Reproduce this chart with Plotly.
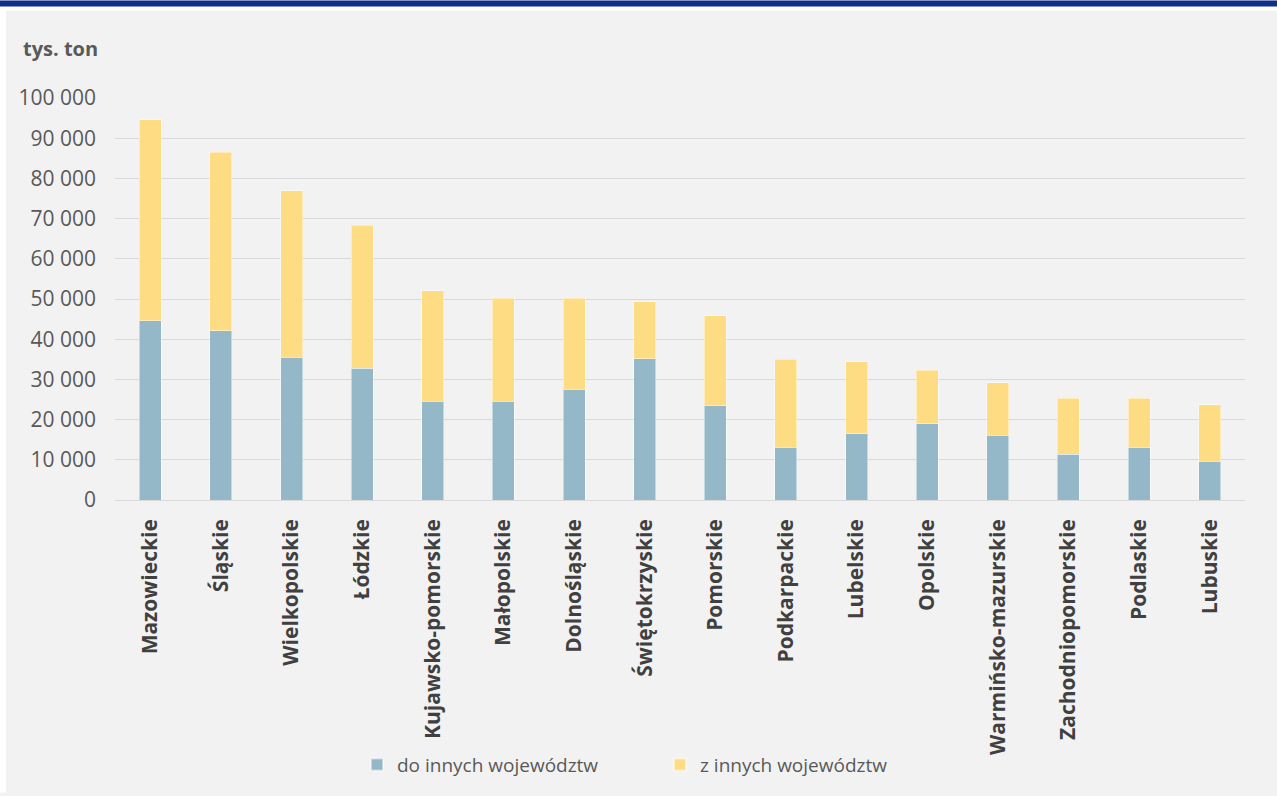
import plotly.graph_objects as go

# województwa, posortowane wg sumy przewozów
categories = [
    "Mazowieckie", "Śląskie", "Wielkopolskie", "Łódzkie", "Kujawsko-pomorskie",
    "Małopolskie", "Dolnośląskie", "Świętokrzyskie", "Pomorskie", "Podkarpackie",
    "Lubelskie", "Opolskie", "Warmińsko-mazurskie", "Zachodniopomorskie",
    "Podlaskie", "Lubuskie",
]

# tys. ton
do_innych = [44530, 42140, 35470, 32760, 24610, 24610, 27570, 35140,
             23470, 13140, 16530, 18930, 16120, 11320, 13140, 9590]
z_innych = [50120, 44360, 41400, 35640, 27490, 25590, 22630, 14160,
            22400, 21820, 17850, 13300, 13050, 13970, 12150, 14130]

y_ticks = [0, 10000, 20000, 30000, 40000, 50000, 60000, 70000, 80000, 90000, 100000]

BLUE = "#94B8C7"
YELLOW = "#FEDC84"
TEXT = "#595959"
FONT = "Open Sans"

W, H = 1277, 796
L, R, T, B = 115, 32, 98, 294


def px_x(px):
    return (px - L) / (W - L - R)


def px_y(py):
    return (H - B - py) / (H - T - B)


fig = go.Figure()
fig.add_trace(go.Bar(
    x=categories, y=do_innych, name="do innych województw",
    marker=dict(color=BLUE, line=dict(color="rgba(255,255,255,0.45)", width=1)),
))
fig.add_trace(go.Bar(
    x=categories, y=z_innych, name="z innych województw",
    marker=dict(color=YELLOW, line=dict(color="rgba(255,255,255,0.45)", width=1)),
))

fig.update_layout(
    width=W, height=H,
    barmode="stack",
    bargap=0.69,
    separators=", ",
    paper_bgcolor="#F2F2F2",
    plot_bgcolor="#F2F2F2",
    margin=dict(l=L, r=R, t=T, b=B, pad=0),
    font=dict(family=FONT, color=TEXT),
    xaxis=dict(
        showgrid=False, showline=False, ticks="",
        tickangle=-90,
        tickfont=dict(size=21, color="#404040", family=FONT, weight="bold"),
        ticklabelstandoff=14,
    ),
    yaxis=dict(
        range=[0, 100000], tickvals=y_ticks, tickformat=",d",
        showgrid=True, gridcolor="#D9D9D9", gridwidth=1,
        zeroline=True, zerolinecolor="#D9D9D9", zerolinewidth=1,
        showline=False, ticks="",
        tickfont=dict(size=21, color=TEXT, family=FONT),
        ticklabelstandoff=18,
    ),
    legend=dict(
        orientation="h", x=px_x(357), xanchor="left",
        y=px_y(768), yanchor="middle",
        font=dict(size=19, color=TEXT, family=FONT),
        entrywidth=258, entrywidthmode="pixels",
        itemsizing="constant", traceorder="normal",
        bgcolor="rgba(0,0,0,0)",
    ),
    showlegend=True,
)

fig.add_annotation(
    text="<b>tys. ton</b>", xref="paper", yref="paper",
    x=px_x(21), y=px_y(48), xanchor="left", yanchor="middle",
    showarrow=False, font=dict(size=20, color=TEXT, family=FONT),
)

# pasek tytułu u góry i białe obramowanie
fig.add_shape(type="rect", xref="paper", yref="paper", layer="below",
              x0=px_x(0), x1=px_x(W), y0=px_y(10), y1=px_y(0),
              fillcolor="#FFFFFF", line_width=0)
fig.add_shape(type="rect", xref="paper", yref="paper", layer="below",
              x0=px_x(0), x1=px_x(6), y0=px_y(H), y1=px_y(0),
              fillcolor="#FFFFFF", line_width=0)
fig.add_shape(type="rect", xref="paper", yref="paper", layer="below",
              x0=px_x(0), x1=px_x(W), y0=px_y(6), y1=px_y(0),
              fillcolor="#0F2F8A", line_width=0)

fig.write_html(
    "out.html",
    config={"displayModeBar": False},
    post_script=(
        "document.body.style.margin='0';"
        "document.body.style.overflow='hidden';"
        "document.body.style.background='#F2F2F2';"
    ),
)
